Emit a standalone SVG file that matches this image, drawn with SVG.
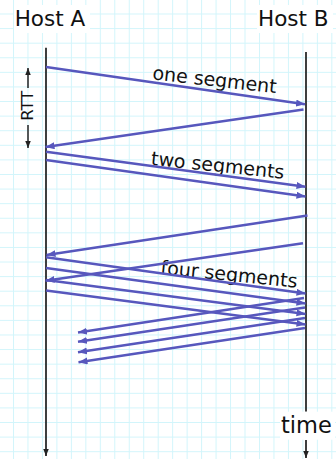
<svg xmlns="http://www.w3.org/2000/svg" width="336" height="459" viewBox="0 0 336 459">
<defs>
<pattern id="grid" x="13" y="13.5" width="14.47" height="14.59" patternUnits="userSpaceOnUse">
<path d="M0.5 0V14.59M0 0.5H14.47" fill="none" stroke="#d2f5fb" stroke-width="1"/>
</pattern>
<marker id="ah" markerUnits="userSpaceOnUse" markerWidth="10" markerHeight="8" refX="9" refY="3.5" orient="auto">
<path d="M0,0 L9,3.5 L0,7 z" fill="#5757bd"/>
</marker>
<marker id="kh" markerUnits="userSpaceOnUse" markerWidth="8" markerHeight="6" refX="7" refY="2.75" orient="auto">
<path d="M0,0 L7,2.75 L0,5.5 z" fill="#222"/>
</marker>
</defs>
<style>
.lbl{font-family:"DejaVu Sans","Liberation Sans",sans-serif;fill:#111}
.host{font-size:21.5px}
.seg{font-size:19px}
.arr{stroke:#5757bd;stroke-width:2.5;fill:none;marker-end:url(#ah)}
.life{stroke:#2a2a2a;stroke-width:1.8;fill:none}
</style>
<rect width="336" height="459" fill="#fff"/>
<rect width="336" height="459" fill="url(#grid)"/>

<g id="hostA">
<rect x="14" y="5" width="76" height="28" fill="#fff"/>
<text class="lbl host" x="14.7" y="26">Host A</text>
<line class="life" x1="46" y1="47.7" x2="46" y2="456" marker-end="url(#kh)"/>
</g>
<g id="hostB">
<rect x="257" y="5" width="76" height="28" fill="#fff"/>
<text class="lbl host" x="258" y="26">Host B</text>
<line class="life" x1="306" y1="52" x2="306" y2="411.7"/>
<rect x="280" y="411.7" width="55" height="28" fill="#fff"/>
<text class="lbl" style="font-size:22.5px" x="281" y="433">time</text>
<line class="life" x1="306" y1="440" x2="306" y2="458" marker-end="url(#kh)"/>
</g>
<g id="rtt">
<text class="lbl" style="font-size:16.5px" text-anchor="middle" transform="translate(33.3,105.8) rotate(-90)">RTT</text>
<line x1="28" y1="88" x2="28" y2="68" stroke="#222" stroke-width="1.5" marker-end="url(#kh)"/>
<line x1="28" y1="125" x2="28" y2="148" stroke="#222" stroke-width="1.5" marker-end="url(#kh)"/>
</g>

<g id="labels">
<text class="lbl seg" transform="translate(152,79.3) rotate(6.4)">one segment</text>
<text class="lbl seg" transform="translate(150.5,164.8) rotate(6)">two segments</text>
<text class="lbl seg" transform="translate(160,273.8) rotate(5.8)">four segments</text>
</g>

<g id="connectors">
<line class="arr" x1="46" y1="67" x2="305" y2="104.3"/>
<line class="arr" x1="303.5" y1="109.5" x2="45.5" y2="147"/>
<line class="arr" x1="46" y1="151.7" x2="305.5" y2="186.7"/>
<line class="arr" x1="46" y1="160" x2="305.5" y2="196.5"/>
<line class="arr" x1="307.5" y1="215.5" x2="46.5" y2="255"/>
<line class="arr" x1="303" y1="243.3" x2="45.5" y2="280.7"/>
<line class="arr" x1="46" y1="257.3" x2="305.5" y2="293.5"/>
<line class="arr" x1="46" y1="268" x2="305.5" y2="303.5"/>
<line class="arr" x1="46" y1="280" x2="305.5" y2="314"/>
<line class="arr" x1="46" y1="290.5" x2="305.5" y2="324.5"/>
<line class="arr" x1="304" y1="298" x2="78" y2="332.5"/>
<line class="arr" x1="305" y1="307.5" x2="78" y2="341.7"/>
<line class="arr" x1="305" y1="318" x2="78" y2="352.3"/>
<line class="arr" x1="305" y1="328" x2="78.5" y2="362.3"/>
</g>
</svg>
